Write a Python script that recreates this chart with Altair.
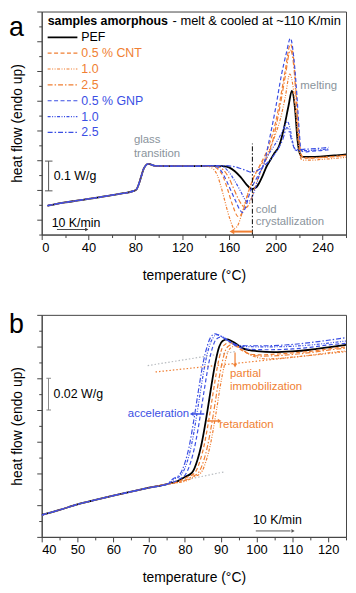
import altair as alt
import pandas as pd

FONT = "Liberation Sans"
ORANGE = "#f07f33"
BLUE = "#3b4fe4"
GRAY = "#8a949c"
AXC = "#444444"

SERIES = ["PEF", "CNT 0.5", "CNT 1.0", "CNT 2.5", "GNP 0.5", "GNP 1.0", "GNP 2.5"]
LABELS = ["PEF", "0.5 % CNT", "1.0", "2.5", "0.5 % GNP", "1.0", "2.5"]
COLORS = ["#000000", ORANGE, ORANGE, ORANGE, BLUE, BLUE, BLUE]
DASHES = [[1, 0], [4, 2.5], [3, 1.5, 1, 1.5, 1, 1.5], [5, 2, 1.5, 2],
          [4, 2.5], [3, 1.5, 1, 1.5, 1, 1.5], [5, 2, 1.5, 2]]

# ---------------- panel a: full heating scan ----------------
A_BASE_T = [5, 10, 20, 30, 40, 50, 60, 70, 78, 81, 83, 85, 87, 89, 91, 93, 96, 100, 110, 120, 130, 140]
A_BASE_V = [0.047, 0.051, 0.058, 0.064, 0.07, 0.076, 0.083, 0.089, 0.096, 0.102, 0.12, 0.145,
            0.17, 0.183, 0.188, 0.186, 0.182, 0.181, 0.18, 0.18, 0.18, 0.181]

A_T = {
    "PEF": [145, 150, 155, 160, 165, 170, 175, 179.5, 183, 186, 189, 192, 196, 199, 202.5, 206.7,
            210.9, 213.7, 216.5, 218.5, 220.8, 223, 230, 240, 250, 260],
    "CNT 0.5": [145, 150, 155, 159, 163, 168, 172, 175, 178, 182, 186, 190, 195, 200, 204, 208,
                212.5, 215.5, 217.5, 219.5, 221.5, 224, 230, 240, 250, 260],
    "CNT 1.0": [145, 150, 154, 158, 161, 164.5, 168, 171, 174, 177, 181, 185, 190, 195, 200, 204,
                208, 212, 215, 217.5, 219.5, 221.5, 224, 230, 240, 250, 260],
    "CNT 2.5": [145, 150, 155, 160, 164, 168, 171, 174, 177, 180, 184, 188, 192, 196, 200, 204,
                208, 212.5, 215.5, 217.5, 219.5, 221.5, 224, 230, 240, 250, 260],
    "GNP 0.5": [145, 150, 154, 158, 162, 166, 169, 171.5, 174, 177, 181, 185, 190, 194, 199.6, 205,
                209, 212.5, 215.5, 218, 220, 221.5, 224, 230, 240, 245],
    "GNP 1.0": [145, 150, 155, 160, 165, 170, 173, 176, 179, 182, 186, 190, 194, 198, 202, 206,
                210, 212.5, 214.5, 216.5, 218.5, 221, 225, 230, 240, 245],
    "GNP 2.5": [145, 150, 155, 160, 165, 170, 175, 179, 183, 187, 191, 195, 199, 203, 206, 209.5,
                212, 214, 216, 218, 221, 225, 230, 240, 245],
}
A_V = {
    "PEF": [0.181, 0.181, 0.18, 0.176, 0.163, 0.143, 0.118, 0.103, 0.108, 0.125, 0.15, 0.178, 0.205,
            0.225, 0.245, 0.303, 0.383, 0.433, 0.37, 0.27, 0.22, 0.211, 0.211, 0.213, 0.216, 0.22],
    "CNT 0.5": [0.18, 0.172, 0.145, 0.1, 0.05, 0.01, 0.03, 0.07, 0.11, 0.15, 0.18, 0.21, 0.26, 0.33,
                0.41, 0.5, 0.59, 0.53, 0.42, 0.3, 0.22, 0.207, 0.207, 0.209, 0.212, 0.216],
    "CNT 1.0": [0.175, 0.15, 0.1, 0.04, 0.0, -0.03, -0.015, 0.02, 0.06, 0.1, 0.14, 0.17, 0.2, 0.24,
                0.29, 0.34, 0.41, 0.49, 0.44, 0.34, 0.25, 0.205, 0.2, 0.2, 0.203, 0.206, 0.21],
    "CNT 2.5": [0.181, 0.179, 0.168, 0.14, 0.105, 0.07, 0.05, 0.04, 0.05, 0.08, 0.13, 0.17, 0.205,
                0.245, 0.31, 0.39, 0.48, 0.57, 0.51, 0.4, 0.29, 0.22, 0.208, 0.208, 0.21, 0.213, 0.217],
    "GNP 0.5": [0.181, 0.177, 0.16, 0.13, 0.095, 0.06, 0.035, 0.024, 0.04, 0.08, 0.12, 0.15, 0.19,
                0.26, 0.37, 0.49, 0.56, 0.61, 0.54, 0.42, 0.3, 0.235, 0.228, 0.23, 0.233, 0.235],
    "GNP 1.0": [0.182, 0.182, 0.178, 0.16, 0.13, 0.095, 0.072, 0.06, 0.07, 0.1, 0.15, 0.19, 0.22,
                0.245, 0.27, 0.3, 0.33, 0.3, 0.26, 0.235, 0.232, 0.232, 0.232, 0.233, 0.236, 0.238],
    "GNP 2.5": [0.182, 0.182, 0.182, 0.181, 0.178, 0.172, 0.165, 0.16, 0.163, 0.172, 0.185, 0.2,
                0.22, 0.245, 0.27, 0.31, 0.29, 0.26, 0.24, 0.236, 0.236, 0.237, 0.238, 0.241, 0.243],
}

# ---------------- panel b: glass transition zoom ----------------
B_BASE_T = [40, 45, 50, 55, 60, 65, 70, 75]
B_BASE_V = [0.0138, 0.017, 0.0205, 0.0233, 0.026, 0.0285, 0.031, 0.0333]

B_T = {
    "PEF": [78, 80, 82, 83.5, 84.5, 85.4, 86.4, 87.3, 88.6, 89.6, 90.5, 91.8, 93, 94.5, 96, 98, 100,
            105, 110, 115, 120, 125],
    "CNT 0.5": [78.8, 80.8, 82.8, 84.3, 85.3, 86.2, 87.2, 88.1, 89.4, 90.4, 91.3, 92.6, 93.8, 95.3,
                96.8, 98.8, 101, 105, 110, 115, 120, 125],
    "CNT 1.0": [80.5, 82.5, 84.5, 86, 87, 87.9, 88.9, 89.8, 91.1, 92.1, 93, 94.3, 95.5, 97, 98.5,
                100.5, 102.5, 106, 110, 115, 120, 125],
    "CNT 2.5": [79.8, 81.8, 83.8, 85.3, 86.3, 87.2, 88.2, 89.1, 90.4, 91.4, 92.3, 93.6, 94.8, 96.3,
                97.8, 99.8, 102, 106, 110, 115, 120, 125],
    "GNP 0.5": [76.2, 78.2, 80.2, 81.7, 82.7, 83.6, 84.6, 85.5, 86.8, 87.8, 88.7, 90, 91.2, 92.7,
                94.2, 96.2, 98.5, 103, 110, 115, 120, 125],
    "GNP 1.0": [77.2, 79.2, 80.7, 81.7, 82.6, 83.6, 84.5, 85.8, 86.8, 87.7, 89, 90.2, 91.7, 93.2,
                95.2, 97.5, 102, 108, 115, 120, 125],
    "GNP 2.5": [76.6, 78.6, 80.1, 81.1, 82, 83, 83.9, 85.2, 86.2, 87.1, 88.4, 89.6, 91.1, 92.6,
                94.6, 97, 102, 108, 115, 120, 125],
}
B_V = {
    "PEF": [0.0352, 0.0378, 0.0405, 0.0485, 0.057, 0.0675, 0.081, 0.094, 0.111, 0.12, 0.1235,
            0.1245, 0.1235, 0.1215, 0.119, 0.1178, 0.1172, 0.1165, 0.117, 0.118, 0.1195, 0.121],
    "CNT 0.5": [0.0355, 0.0378, 0.0405, 0.0485, 0.057, 0.0675, 0.081, 0.094, 0.111, 0.119, 0.1215,
                0.1225, 0.121, 0.1185, 0.1165, 0.115, 0.1148, 0.1152, 0.116, 0.117, 0.1185, 0.1198],
    "CNT 1.0": [0.0355, 0.0378, 0.0405, 0.0485, 0.057, 0.0675, 0.081, 0.094, 0.109, 0.117, 0.1195,
                0.1205, 0.119, 0.1165, 0.1145, 0.113, 0.1122, 0.1125, 0.1133, 0.1145, 0.116, 0.1172],
    "CNT 2.5": [0.0355, 0.0378, 0.0405, 0.0485, 0.057, 0.0675, 0.081, 0.094, 0.11, 0.118, 0.1205,
                0.1215, 0.12, 0.1175, 0.1155, 0.1142, 0.114, 0.1143, 0.115, 0.1162, 0.1178, 0.119],
    "GNP 0.5": [0.034, 0.0362, 0.0395, 0.0478, 0.0565, 0.067, 0.081, 0.094, 0.111, 0.12, 0.1245,
                0.126, 0.125, 0.1228, 0.1205, 0.119, 0.1182, 0.118, 0.1185, 0.1195, 0.121, 0.122],
    "GNP 1.0": [0.0365, 0.0398, 0.0478, 0.0565, 0.067, 0.081, 0.094, 0.111, 0.12, 0.125, 0.1275,
                0.1265, 0.1245, 0.122, 0.1205, 0.12, 0.1198, 0.12, 0.121, 0.1222, 0.1235],
    "GNP 2.5": [0.0365, 0.0395, 0.0475, 0.056, 0.067, 0.081, 0.094, 0.111, 0.12, 0.1255, 0.128,
                0.127, 0.125, 0.123, 0.121, 0.1205, 0.1205, 0.121, 0.1225, 0.124, 0.1256],
}


def build(base_t, base_v, tails_t, tails_v):
    rows = []
    for s in SERIES:
        for t, v in zip(base_t + tails_t[s], base_v + tails_v[s]):
            rows.append({"series": s, "T": t, "v": v})
    return pd.DataFrame(rows)


df_a = build(A_BASE_T, A_BASE_V, A_T, A_V)
df_b = build(B_BASE_T, B_BASE_V, B_T, B_V)

COLOR = alt.Color("series:N", scale=alt.Scale(domain=SERIES, range=COLORS), legend=None)
DASH = alt.StrokeDash("series:N", scale=alt.Scale(domain=SERIES, range=DASHES), legend=None)


def axis_x(values, major):
    return alt.Axis(values=values, title="temperature (°C)",
                    labelExpr=f"datum.value % {major} == 0 ? datum.label : ''",
                    tickSize={"condition": {"test": f"datum.value % {major} == 0", "value": 5}, "value": 3},
                    titlePadding=14, labelPadding=2)


def axis_y(values, major):
    return alt.Axis(values=values, labels=False, title="heat flow (endo up)", titlePadding=12,
                    tickSize={"condition": {"test": f"abs(datum.value/{major} - round(datum.value/{major})) < 0.001",
                                            "value": 5}, "value": 3})


XA = alt.X("T:Q", scale=alt.Scale(domain=[0, 260], nice=False), axis=axis_x(list(range(0, 261, 20)), 40))
YA = alt.Y("v:Q", scale=alt.Scale(domain=[-0.05, 0.7], nice=False, zero=False),
           axis=axis_y([round(-0.05 + 0.05 * i, 2) for i in range(16)], 0.1))
XB = alt.X("T:Q", scale=alt.Scale(domain=[40, 125], nice=False), axis=axis_x(list(range(40, 126, 5)), 10))
YB = alt.Y("v:Q", scale=alt.Scale(domain=[0, 0.14], nice=False, zero=False),
           axis=axis_y([round(0.01 * i, 2) for i in range(15)], 0.02))


def lines(df, X, Y):
    pef = alt.Chart(df[df.series == "PEF"]).mark_line(strokeWidth=1.8, color="black", interpolate="monotone",
                                                       clip=True).encode(x=X, y=Y)
    others = alt.Chart(df[df.series != "PEF"]).mark_line(strokeWidth=1.2, interpolate="monotone", clip=True).encode(
        x=X, y=Y, color=COLOR, strokeDash=DASH, detail="series:N")
    return [pef, others]


def texts(X, Y, txt, ts, vs, color, size, align="left"):
    d = pd.DataFrame({"text": txt, "T": ts, "v": vs})
    return alt.Chart(d).mark_text(font=FONT, fontSize=size, color=color, align=align, baseline="middle").encode(
        x=X, y=Y, text="text:N")


def segs(X, Y, t1, t2, v1, v2, color, width=1.0, dash=None):
    d = pd.DataFrame({"T": t1, "T2": t2, "v": v1, "v2": v2})
    kw = dict(color=color, strokeWidth=width)
    if dash is not None:
        kw["strokeDash"] = dash
    return alt.Chart(d).mark_rule(**kw).encode(x=X, x2="T2:Q", y=Y, y2="v2:Q")


def heads(X, Y, ts, vs, shape, color, size=28):
    d = pd.DataFrame({"T": ts, "v": vs})
    return alt.Chart(d).mark_point(shape=shape, filled=True, opacity=1, color=color, size=size).encode(x=X, y=Y)


def label(letter, y):
    return alt.Chart(pd.DataFrame({"t": [letter]})).mark_text(
        font=FONT, fontSize=27, align="left", baseline="alphabetic", color="black").encode(
        x=alt.value(-33), y=alt.value(y), text="t:N")


# legend for panel a
leg = pd.DataFrame({"series": SERIES, "label": LABELS, "py": [26 + 16 * i for i in range(7)],
                    "w": [1.8, 1.2, 1.2, 1.2, 1.2, 1.2, 1.2]})
leg_lines = alt.Chart(leg).mark_rule().encode(
    x=alt.value(6), x2=alt.value(36), y=alt.Y("py:Q", scale=None, axis=None),
    color=COLOR, strokeDash=DASH, strokeWidth=alt.StrokeWidth("w:Q", scale=None, legend=None))
leg_text = alt.Chart(leg).mark_text(font=FONT, fontSize=12.5, align="left", baseline="middle").encode(
    x=alt.value(40), y=alt.Y("py:Q", scale=None, axis=None), text="label:N", color=COLOR)

title_bold = alt.Chart(pd.DataFrame({"t": ["samples amorphous"]})).mark_text(
    font=FONT, fontSize=12.5, fontWeight="bold", align="left", baseline="alphabetic", color="black").encode(
    x=alt.value(6), y=alt.value(14), text="t:N")
title_rest = alt.Chart(pd.DataFrame({"t": ["- melt & cooled at ~110 K/min"]})).mark_text(
    font=FONT, fontSize=13, align="left", baseline="alphabetic", color="black").encode(
    x=alt.value(132), y=alt.value(14), text="t:N")

layers_a = lines(df_a, XA, YA) + [
    segs(XA, YA, [180], [180], [-0.05], [0.256], "black", 1.0, [5, 2, 1.5, 2]),
    segs(XA, YA, [180], [164], [-0.04], [-0.04], ORANGE, 2.0),
    heads(XA, YA, [162.5], [-0.04], "triangle-left", ORANGE, 30),
    segs(XA, YA, [5.9, 2.8, 2.8], [5.9, 9.2, 9.2], [0.097, 0.097, 0.197], [0.197, 0.097, 0.197], "#555555", 1.0),
    segs(XA, YA, [13], [37.5], [-0.033], [-0.033], "#333333", 0.9),
    heads(XA, YA, [38.5], [-0.033], "triangle-right", "#333333", 14),
    texts(XA, YA, ["glass", "transition", "melting", "cold", "crystallization"],
          [78.8, 78.8, 221, 182.9, 182.9], [0.267, 0.22, 0.45, 0.034, -0.009], GRAY, 11.5),
    texts(XA, YA, ["0.1 W/g", "10 K/min"], [10.2, 8.5], [0.147, -0.01], "black", 12.5),
    leg_lines, leg_text, title_bold, title_rest, label("a", 25),
]

layers_b = [
    segs(XB, YB, [78, 69.6], [91, 94], [0.035, 0.108], [0.041, 0.1168], "#b8bcc0", 1.2, [1.5, 2]),
    segs(XB, YB, [71.8], [125], [0.104], [0.1168], ORANGE, 1.2, [1.5, 2]),
] + lines(df_b, XB, YB) + [
    segs(XB, YB, [94], [94], [0.1085], [0.1162], ORANGE, 1.2),
    heads(XB, YB, [94], [0.108], "triangle-down", ORANGE, 18),
    segs(XB, YB, [82.3], [85.4], [0.0775], [0.0775], BLUE, 1.5),
    heads(XB, YB, [81.9], [0.0775], "triangle-left", BLUE, 18),
    segs(XB, YB, [86.2], [89.3], [0.0731], [0.0731], ORANGE, 1.5),
    heads(XB, YB, [89.7], [0.0731], "triangle-right", ORANGE, 18),
    segs(XB, YB, [41.9, 41.3, 41.3], [41.9, 42.6, 42.6], [0.08, 0.08, 0.1], [0.1, 0.08, 0.1], "#8a8a8a", 1.0),
    segs(XB, YB, [99.8], [109.5], [0.00375], [0.00375], "#555555", 1.0),
    heads(XB, YB, [110.2], [0.00375], "triangle-right", "#555555", 14),
    texts(XB, YB, ["partial", "immobilization"], [92.6, 92.6], [0.103, 0.0944], ORANGE, 11.5),
    texts(XB, YB, ["retardation"], [89.6], [0.0706], ORANGE, 11.5),
    texts(XB, YB, ["acceleration"], [81.2], [0.0775], BLUE, 11.5, align="right"),
    texts(XB, YB, ["0.02 W/g", "10 K/min"], [43.3, 99], [0.09, 0.0106], "black", 12.5),
    label("b", 18),
]

panel_a = alt.layer(*layers_a).properties(width=307, height=225)
panel_b = alt.layer(*layers_b).properties(width=307, height=224)

chart = alt.vconcat(panel_a, panel_b, spacing=81, bounds="flush").properties(padding=0).configure_view(
    stroke=AXC, strokeWidth=1).configure_axis(
    domainColor=AXC, tickColor=AXC, grid=False, labelFont=FONT, labelFontSize=13, labelColor="black",
    titleFont=FONT, titleFontSize=14, titleFontWeight="normal", titleColor="black")

chart.save("out.html", embed_options={"renderer": "svg", "actions": False})
